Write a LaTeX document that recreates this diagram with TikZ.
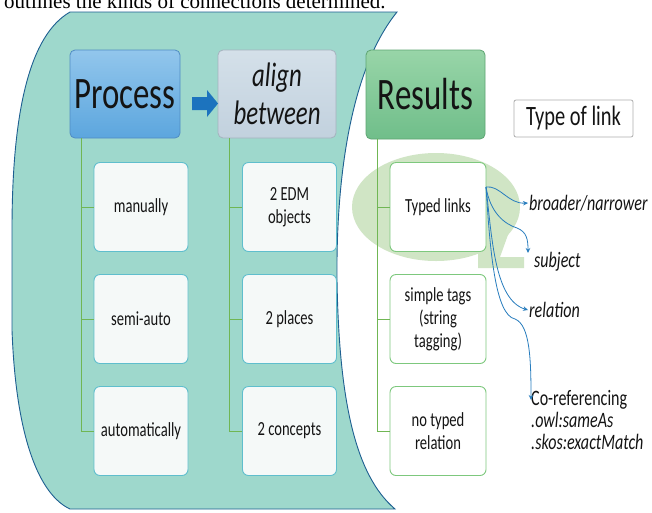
\documentclass[tikz,border=0pt]{standalone}
\usepackage{fontspec}
\setmainfont{Carlito}[FakeStretch=0.73]
\newfontfamily\pagefont{Liberation Serif}
\usetikzlibrary{arrows.meta}
\definecolor{tealbg}{RGB}{158,216,204}
\definecolor{tealline}{RGB}{30,95,145}
\definecolor{procA}{RGB}{146,198,236}
\definecolor{procB}{RGB}{92,166,222}
\definecolor{procD}{RGB}{80,140,195}
\definecolor{alnA}{RGB}{212,224,233}
\definecolor{alnB}{RGB}{194,209,222}
\definecolor{alnD}{RGB}{165,178,190}
\definecolor{resA}{RGB}{152,213,168}
\definecolor{resB}{RGB}{112,190,138}
\definecolor{resD}{RGB}{95,165,115}
\definecolor{boxfill}{RGB}{245,249,248}
\definecolor{boxline}{RGB}{95,190,205}
\definecolor{resline}{RGB}{125,200,125}
\definecolor{trunkgreen}{RGB}{112,182,84}
\definecolor{hilite}{RGB}{208,229,197}
\definecolor{arrowblue}{RGB}{40,125,190}
\definecolor{blockblue}{RGB}{28,115,190}
\definecolor{txt}{RGB}{20,20,20}
\definecolor{linkline}{RGB}{175,175,175}
\begin{document}
\begin{tikzpicture}[x=1pt,y=-1pt,
  hdr/.style={rounded corners=5pt, line width=0.8pt, text=txt, inner sep=2pt, align=center},
  child/.style={rounded corners=6pt, fill=boxfill, draw=boxline, line width=0.9pt, text=txt,
    align=center, font=\fontsize{20}{23}\selectfont, inner sep=2pt,
    minimum width=94pt, minimum height=89pt},
  reschild/.style={child, fill=white, draw=resline},
  trunk/.style={draw=trunkgreen, line width=1pt},
  blarrow/.style={draw=arrowblue, line width=0.8pt, -{Stealth[length=5pt,width=4.5pt]}},
  rlabel/.style={text=txt, inner sep=1pt, font=\fontsize{22}{22}\selectfont\itshape}
]
\useasboundingbox (0,0) rectangle (652,512);
\fill[white] (0,0) rectangle (652,512);
% clipped line of page text at the top
\begin{scope}
  \clip (0,0) rectangle (652,12);
  \node[anchor=base west, inner sep=0, text=black, font=\pagefont\fontsize{21}{21}\selectfont] (pg) at (4,8) {outlines the kinds of connections determined.};
\end{scope}
% teal page shape
\path[fill=tealbg, draw=tealline, line width=0.9pt]
  (70,12) -- (397,12) .. controls (350,70) and (336,180) .. (337,280)
  .. controls (339,400) and (355,475) .. (395,509) -- (70,509)
  .. controls (40,495) and (16,440) .. (12,330) -- (12,230)
  .. controls (12,110) and (30,35) .. (70,12) -- cycle;
% highlight ellipse (magnifier)
\fill[hilite] (436,207) ellipse [x radius=84, y radius=54];
\fill[hilite] (478,245) -- (509,232) -- (500,257) -- (524,257) -- (524,268) -- (478,268) -- cycle;
% headers
\node[hdr, top color=procA, bottom color=procB, draw=procD, minimum width=110pt, minimum height=88pt,
  font=\fontsize{45}{48}\selectfont] (proc) at (125,94) {Process};
\node[hdr, top color=alnA, bottom color=alnB, draw=alnD, minimum width=118pt, minimum height=88pt,
  font=\fontsize{34}{38}\selectfont\itshape] (aln) at (277,94) {align\\between};
\node[hdr, top color=resA, bottom color=resB, draw=resD, minimum width=119pt, minimum height=89pt,
  font=\fontsize{45}{48}\selectfont] (res) at (425.5,94.5) {Results};
\node[rounded corners=2pt, fill=white, draw=linkline, line width=0.8pt, text=txt, minimum width=119pt,
  minimum height=37pt, inner sep=2pt, font=\fontsize{28}{30}\selectfont] (tol) at (573.5,118.5) {Type of link};
% block arrow between Process and align
\fill[blockblue] (192,97) -- (207,97) -- (207,90) -- (218,103.5) -- (207,117) -- (207,110) -- (192,110) -- cycle;
% children
\node[child] (p1) at (141,207) {manually};
\node[child] (p2) at (141,319) {semi-auto};
\node[child] (p3) at (141,431) {automatically};
\node[child] (a1) at (289.5,207) {2 EDM\\objects};
\node[child] (a2) at (289.5,319) {2 places};
\node[child] (a3) at (289.5,431) {2 concepts};
\node[reschild, minimum width=96pt] (r1) at (438,207) {Typed links};
\node[reschild, minimum width=96pt] (r2) at (438,319) {simple tags\\(string\\tagging)};
\node[reschild, minimum width=96pt] (r3) at (438,431) {no typed\\relation};
% trunks
\coordinate (pt) at ([xshift=12pt]proc.south west);
\coordinate (at) at ([xshift=12pt]aln.south west);
\coordinate (rt) at ([xshift=12pt]res.south west);
\foreach \c in {p1,p2,p3} \draw[trunk] (pt) |- (\c.west);
\foreach \c in {a1,a2,a3} \draw[trunk] (at) |- (\c.west);
\foreach \c in {r1,r2,r3} \draw[trunk] (rt) |- (\c.west);
% link type labels
\node[rlabel, anchor=west] (bn) at (528,203) {broader/narrower};
\node[rlabel, anchor=west] (sj) at (533,262) {subject};
\node[rlabel, anchor=west] (rl) at (528,310) {relation};
\node[rlabel, anchor=west, align=left] (cr) at (530,420) {\upshape Co-referencing\\.owl:sameAs\\.skos:exactMatch};
\coordinate (src) at (486,187);
\coordinate (e2) at (528,253);
\coordinate (e4) at (531,400);
\draw[blarrow] (src) .. controls (500,185) and (508,204) .. (bn.west);
\draw[blarrow] (src) .. controls (490,212) and (504,224) .. (517,228) .. controls (527,232) and (528,240) .. (e2);
\draw[blarrow] (src) .. controls (492,240) and (495,300) .. (rl.west);
\draw[blarrow] (src) .. controls (490,250) and (495,315) .. (515,319) .. controls (530,325) and (531,360) .. (e4);
\end{tikzpicture}
\end{document}
